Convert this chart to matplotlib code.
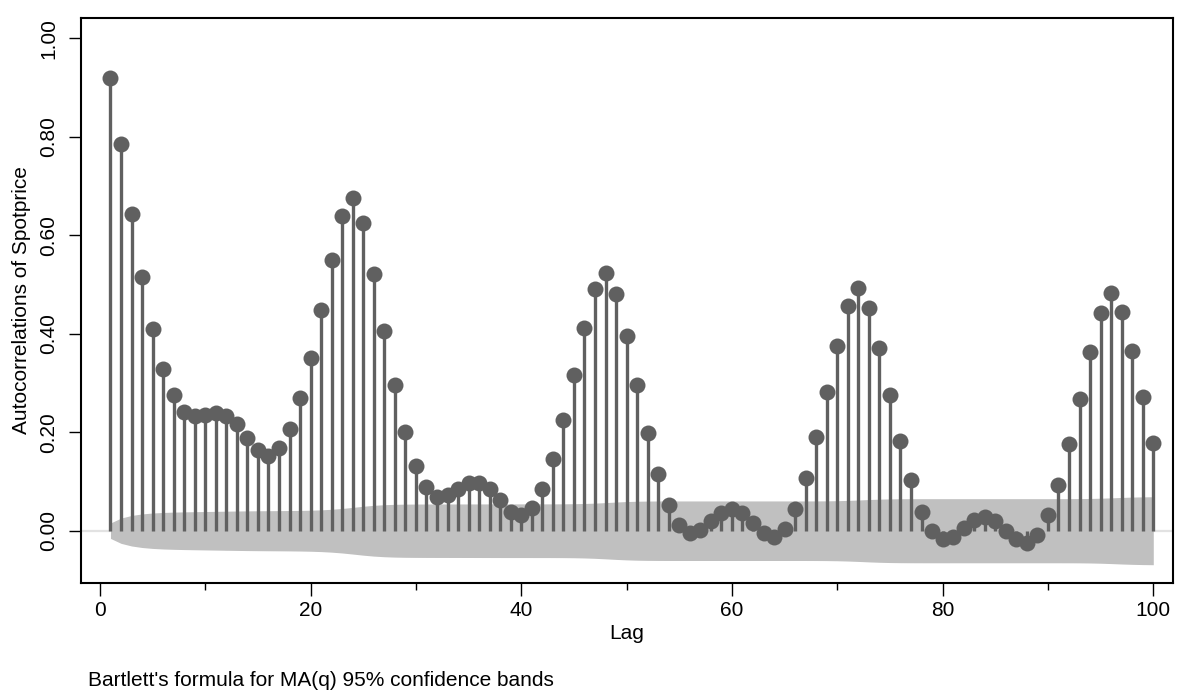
import numpy as np
import matplotlib
matplotlib.use("Agg")
import matplotlib.pyplot as plt
from matplotlib.ticker import MultipleLocator

plt.rcParams['font.family'] = ['Liberation Sans', 'DejaVu Sans']

lags = list(range(1, 101))
acf = [
    0.920, 0.785, 0.644, 0.516, 0.409, 0.329, 0.276, 0.242, 0.233, 0.234,
    0.240, 0.233, 0.216, 0.189, 0.163, 0.152, 0.167, 0.207, 0.270, 0.351,
    0.448, 0.550, 0.640, 0.676, 0.625, 0.522, 0.406, 0.296, 0.201, 0.132,
    0.088, 0.068, 0.072, 0.085, 0.096, 0.097, 0.084, 0.062, 0.039, 0.031,
    0.046, 0.084, 0.146, 0.225, 0.316, 0.411, 0.491, 0.524, 0.480, 0.395,
    0.295, 0.198, 0.116, 0.052, 0.011, -0.004, 0.002, 0.019, 0.037, 0.044,
    0.036, 0.016, -0.005, -0.013, 0.003, 0.044, 0.107, 0.190, 0.282, 0.376,
    0.456, 0.492, 0.453, 0.371, 0.276, 0.183, 0.102, 0.038, -0.001, -0.016,
    -0.012, 0.005, 0.022, 0.027, 0.019, 0.000, -0.017, -0.025, -0.008, 0.032,
    0.093, 0.176, 0.267, 0.362, 0.443, 0.483, 0.445, 0.364, 0.271, 0.179,
]
n_obs = 15700  # estimated sample size behind the Bartlett bands

xticks = [0, 20, 40, 60, 80, 100]
yticks = [0.0, 0.2, 0.4, 0.6, 0.8, 1.0]
ytick_labels = ["0.00", "0.20", "0.40", "0.60", "0.80", "1.00"]
ylabel = "Autocorrelations of Spotprice"
xlabel = "Lag"
note = "Bartlett's formula for MA(q) 95% confidence bands"

# Bartlett's formula bands (as Stata's ac command computes them)
r = np.array(acf)
cum = np.concatenate([[0.0], np.cumsum(r[:-1] ** 2)])
se = np.sqrt((1 + 2 * cum) / n_obs)
band = 1.959964 * se

fs = 15

fig = plt.figure(figsize=(11.83, 6.91), dpi=100)
ax = fig.add_axes([0.0682, 0.1567, 0.9918 - 0.0682, 0.9735 - 0.1567])

ax.axhline(0, color="#e2e2e2", lw=1.6, zorder=1)
ax.fill_between(lags, -band, band, color="#c0c0c0", lw=0, zorder=2)
ax.vlines(lags, 0, acf, color="#606060", lw=2.4, zorder=3)
ax.plot(lags, acf, "o", color="#606060", ms=11.5, mew=0, zorder=4)

ax.set_xlim(-1.83, 101.9)
ax.set_ylim(-0.1056, 1.0406)

ax.set_xticks(xticks)
ax.xaxis.set_minor_locator(MultipleLocator(10))
ax.set_yticks(yticks)
ax.set_yticklabels(ytick_labels, rotation=90, va="center")

for s in ax.spines.values():
    s.set_linewidth(1.5)
    s.set_color("black")

ax.tick_params(axis="both", which="major", length=9, width=1.0, labelsize=fs,
               direction="out", pad=4)
ax.tick_params(axis="x", which="minor", length=5, width=1.0)
ax.tick_params(axis="y", which="major", pad=7)

ax.set_xlabel(xlabel, fontsize=fs, labelpad=3)
ax.set_ylabel(ylabel, fontsize=fs, labelpad=6)

fig.text(88 / 1183, 1 - 680 / 691, note, fontsize=fs, va="center", ha="left")

fig.savefig("out.png", dpi=100)
